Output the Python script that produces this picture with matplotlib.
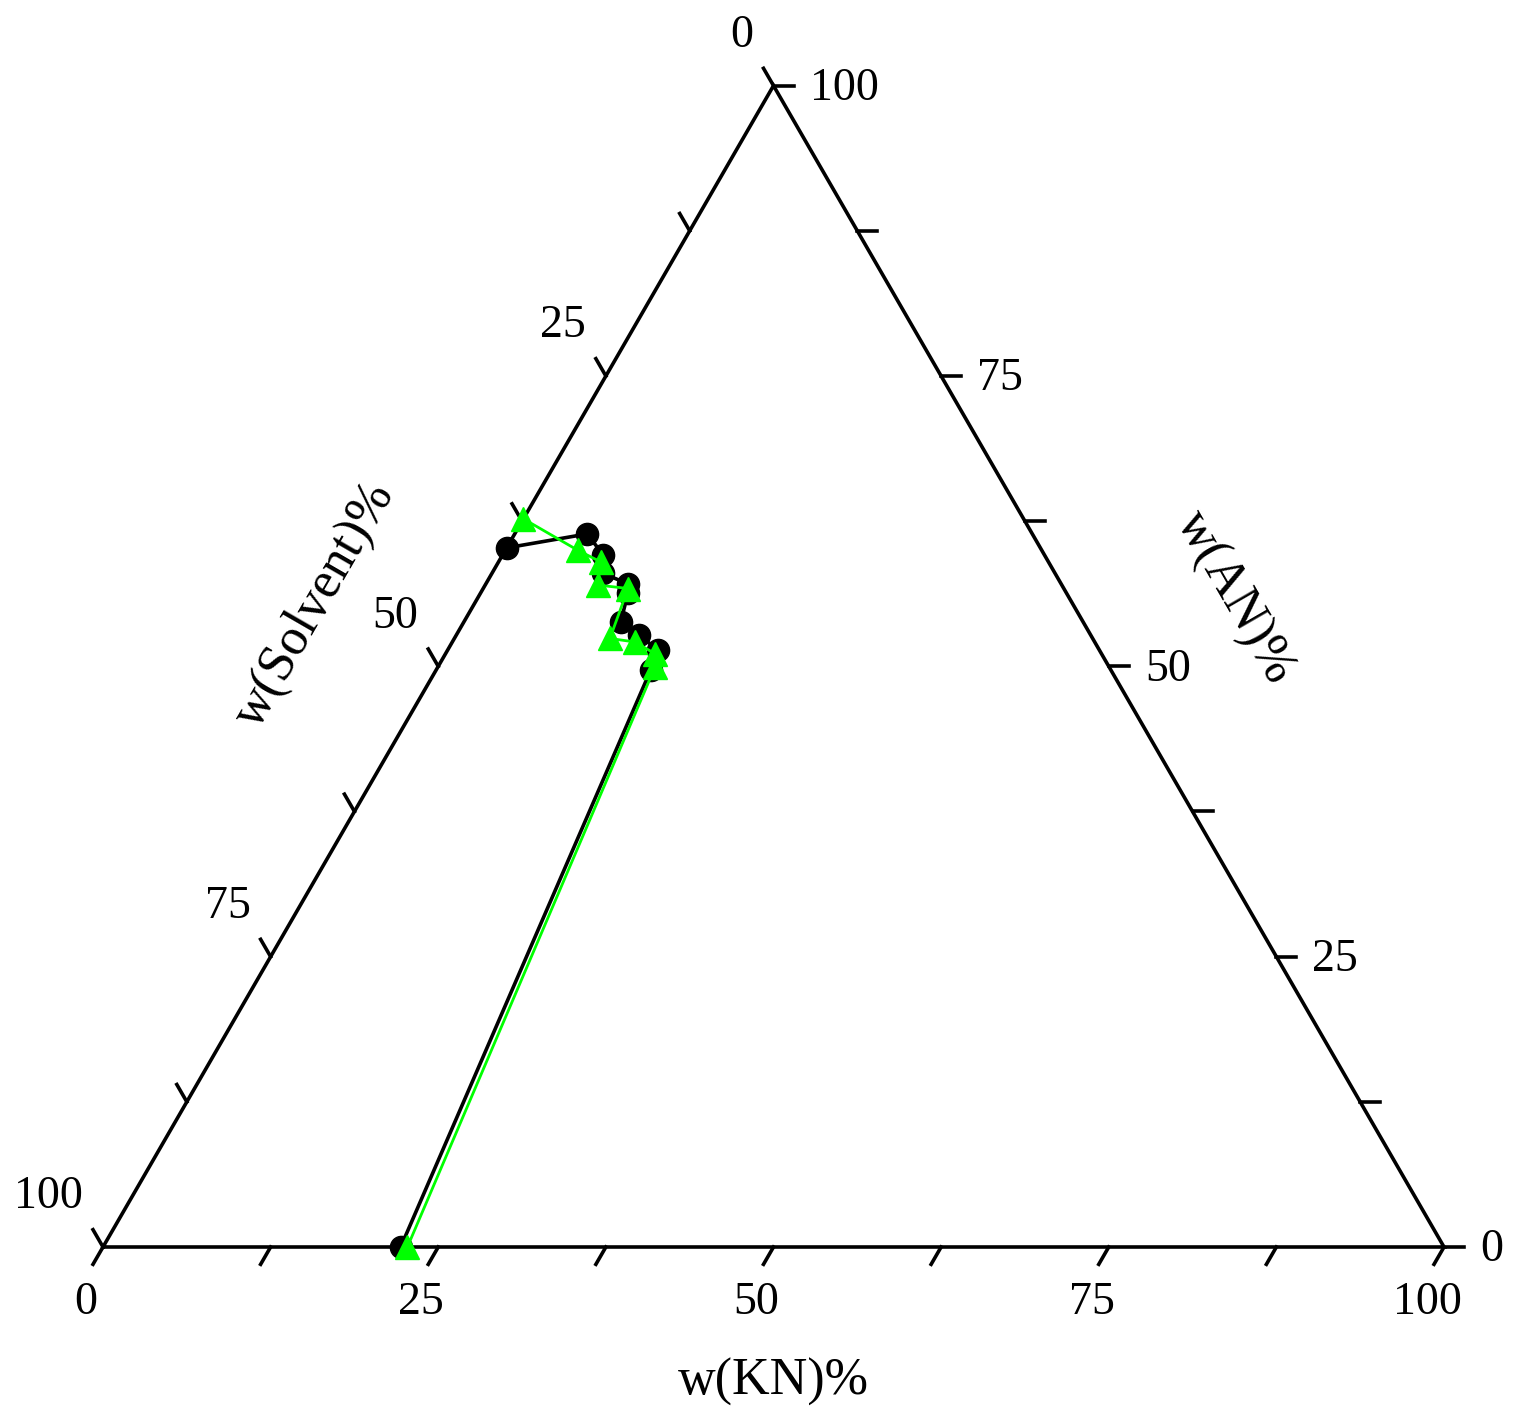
import numpy as np
import matplotlib
matplotlib.use("Agg")
import matplotlib.pyplot as plt

plt.rcParams['font.family'] = ['Liberation Serif', 'DejaVu Serif']

# ternary data: w(KN)%, w(AN)% (solvent = rest)
black_kn = [0.0, 5.4, 7.5, 8.3, 10.6, 11.0, 11.7, 13.6, 15.7, 16.0, 22.2]
black_an = [60.2, 61.4, 59.6, 58.0, 57.1, 56.3, 53.8, 52.7, 51.4, 49.7, 0.0]

green_kn = [0.0, 5.4, 7.6, 8.4, 10.8, 11.6, 13.6, 15.6, 16.2, 22.7]
green_an = [62.7, 60.0, 59.0, 57.0, 56.7, 52.4, 52.1, 51.1, 49.9, 0.0]

tick_vals = [0, 12.5, 25, 37.5, 50, 62.5, 75, 87.5, 100]
label_vals = [0, 25, 50, 75, 100]

H = np.sqrt(3) / 2


def to_xy(kn, an):
    kn = np.asarray(kn) / 100.0
    an = np.asarray(an) / 100.0
    return kn + an / 2, an * H


fig = plt.figure(figsize=(15.17, 14.26), dpi=100)
ax = fig.add_axes([0, 0, 1, 1])
sc = 1341.0
ax.set_xlim(-103 / sc, (1517 - 103) / sc)
ax.set_ylim(-179 / sc, (1426 - 179) / sc)
ax.axis('off')

# frame
fx, fy = to_xy([0, 100, 0, 0], [0, 0, 100, 0])
ax.plot(fx, fy, color='black', lw=2.6, solid_joinstyle='miter', zorder=2)

tl = 20 / sc
fs = 33
for v in tick_vals:
    # bottom axis (KN), ticks down-left
    bx, by = to_xy(v, 0)
    ax.plot([bx, bx - 0.5 * tl], [by, by - H * tl], color='black', lw=2.6)
    # right axis (AN), ticks to the right
    rx, ry = to_xy(100 - v, v)
    ax.plot([rx, rx + tl], [ry, ry], color='black', lw=2.6)
    # left axis (Solvent), ticks up-left
    lx, ly = to_xy(0, 100 - v)
    ax.plot([lx, lx - 0.5 * tl], [ly, ly + H * tl], color='black', lw=2.6)
    if v in label_vals:
        ax.annotate(f"{int(v)}", (bx, by), xytext=(-17, -56), textcoords='offset pixels',
                    ha='center', va='center', fontsize=fs)
        ax.annotate(f"{int(v)}", (rx, ry), xytext=(36, -3), textcoords='offset pixels',
                    ha='left', va='center', fontsize=fs)
        ax.annotate(f"{int(v)}", (lx, ly), xytext=(-20, 50), textcoords='offset pixels',
                    ha='right', va='center', fontsize=fs)

# axis titles
ax.text(0.5, -0.101, "w(KN)%", ha='center', va='center', fontsize=37.5)
ax.text(0.844, 0.4845, "w(AN)%", ha='center', va='center', fontsize=37.5, rotation=-60,
        rotation_mode='anchor')
ax.text(0.158, 0.4785, "w(Solvent)%", ha='center', va='center', fontsize=37.5, rotation=60,
        rotation_mode='anchor')

# data
x1, y1 = to_xy(black_kn, black_an)
ax.plot(x1, y1, color='black', lw=2.6, marker='o', ms=16, zorder=3)
x2, y2 = to_xy(green_kn, green_an)
ax.plot(x2, y2, color='#00ff00', lw=2.0, marker='^', ms=17, zorder=4)

fig.savefig("out.png", dpi=100)
